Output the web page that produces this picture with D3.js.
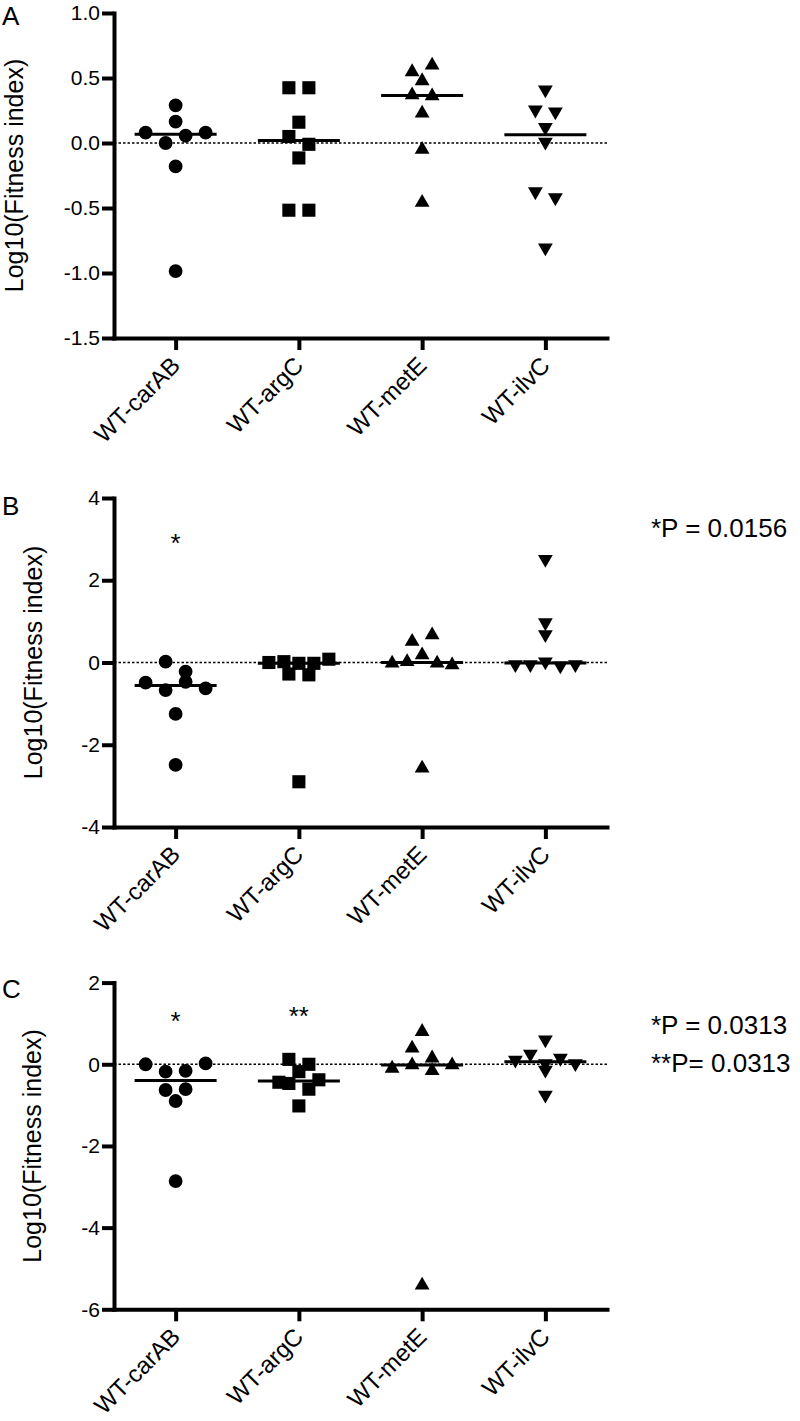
<!DOCTYPE html>
<html><head><meta charset="utf-8">
<script src="https://cdn.jsdelivr.net/npm/d3@7"></script>
<style>
body{margin:0;background:#fff}
svg{display:block}
text{font-family:"Liberation Sans",Arial,Helvetica,sans-serif;fill:#000}
</style>
</head><body>
<svg id="chart" width="800" height="1421"></svg>
<script>
// ---------------- DATA ----------------
const categories = ["WT-carAB", "WT-argC", "WT-metE", "WT-ilvC"];
const yTitle = "Log10(Fitness index)";

// Panel A
const ticksA = [1.0, 0.5, 0.0, -0.5, -1.0, -1.5];
const A_carAB = [0.29, 0.165, 0.08, 0.0, 0.056, 0.08, -0.18, -0.985];
const A_argC  = [0.425, 0.425, 0.16, 0.05, -0.01, -0.115, -0.517, -0.517];
const A_metE  = [0.547, 0.598, 0.478, 0.369, 0.361, 0.229, -0.05, -0.458];
const A_ilvC  = [0.41, 0.255, 0.24, 0.12, 0.008, -0.374, -0.42, -0.806];

// Panel B
const ticksB = [4, 2, 0, -2, -4];
const B_carAB = [0.02, -0.22, -0.49, -0.67, -0.47, -0.63, -1.25, -2.49];
const B_argC  = [0.0, 0.02, -0.02, -0.02, 0.08, -0.28, -0.30, -2.9];
const B_metE  = [0.51, 0.67, -0.02, 0.02, 0.18, -0.02, -0.06, -2.57];
const B_ilvC  = [2.51, 0.97, 0.68, -0.05, -0.05, 0.02, -0.08, -0.05];
const starsB = [{category: "WT-carAB", text: "*", value: 3.05}];
const pvalsB = ["*P = 0.0156"];

// Panel C
const ticksC = [2, 0, -2, -4, -6];
const C_carAB = [0.0, -0.18, -0.16, 0.02, -0.63, -0.61, -0.9, -2.86];
const C_argC  = [0.12, 0.0, -0.44, -0.18, -0.47, -0.38, -0.61, -1.02];
const C_metE  = [0.8, 0.39, 0.15, -0.1, -0.02, -0.16, -0.02, -5.41];
const C_ilvC  = [0.6, 0.105, 0.25, 0.02, 0.15, 0.02, -0.14, -0.75];
const starsC = [{category: "WT-carAB", text: "*", value: 1.2},
                {category: "WT-argC", text: "**", value: 1.33}];
const pvalsC = ["*P = 0.0313", "**P= 0.0313"];

// ---------------- LAYOUT ----------------
const svg = d3.select("#chart");
const axisX = 114, axisEnd = 607;
const symbols = [d3.symbolCircle, d3.symbolSquare, d3.symbolTriangle, d3.symbolTriangle];
const symSizes = [150, 172, 95, 95];
const symRot = [0, 0, 0, 180];

const panels = [
  {letter: "A", letterY: 25, top: 13, bottom: 338, ticks: ticksA,
   fmt: v => v.toFixed(1), series: [A_carAB, A_argC, A_metE, A_ilvC],
   stars: [], pvals: [], pvalY: 0, titleX: 23},
  {letter: "B", letterY: 515, top: 498, bottom: 827, ticks: ticksB,
   fmt: v => String(v), series: [B_carAB, B_argC, B_metE, B_ilvC],
   stars: starsB, pvals: pvalsB, pvalY: 537, titleX: 42},
  {letter: "C", letterY: 998, top: 982.6, bottom: 1309.3, ticks: ticksC,
   fmt: v => String(v), series: [C_carAB, C_argC, C_metE, C_ilvC],
   stars: starsC, pvals: pvalsC, pvalY: 1034, titleX: 41}
];

// arrange points of one group in horizontal rows (Prism-like scatter)
function rowOffsets(ys) {
  const idx = ys.map((y, i) => i).sort((a, b) => ys[a] - ys[b]);
  const rows = [];
  let cur = null;
  idx.forEach(i => {
    if (cur && ys[i] - ys[cur[0]] <= 11) cur.push(i);
    else { cur = [i]; rows.push(cur); }
  });
  const off = new Array(ys.length).fill(0);
  rows.forEach(r => {
    r.sort((a, b) => a - b);
    const n = r.length;
    const step = n > 1 ? Math.min(20, 60 / (n - 1)) : 0;
    r.forEach((i, k) => { off[i] = (k - (n - 1) / 2) * step; });
  });
  return off;
}

panels.forEach(p => {
  const g = svg.append("g");
  const dom = [p.ticks[p.ticks.length - 1], p.ticks[0]];
  const y = d3.scaleLinear().domain(dom).range([p.bottom, p.top]);
  const x = d3.scalePoint().domain(categories).range([axisX, axisEnd]).padding(0.5);

  // zero reference line (dotted)
  g.append("line")
    .attr("x1", axisX).attr("x2", axisEnd)
    .attr("y1", y(0)).attr("y2", y(0))
    .attr("stroke", "#000").attr("stroke-width", 1.6)
    .attr("stroke-dasharray", "2.5,2");

  // points
  p.series.forEach((vals, ci) => {
    const cx = x(categories[ci]);
    const ys = vals.map(v => y(v));
    const offs = rowOffsets(ys);
    const sym = d3.symbol().type(symbols[ci]).size(symSizes[ci]);
    g.append("g").selectAll("path").data(vals).join("path")
      .attr("d", sym)
      .attr("transform", (v, i) => `translate(${cx + offs[i]},${y(v)}) rotate(${symRot[ci]})`)
      .attr("fill", "#000");
    // median line
    const med = d3.median(vals);
    g.append("line")
      .attr("x1", cx - 41).attr("x2", cx + 41)
      .attr("y1", y(med)).attr("y2", y(med))
      .attr("stroke", "#000").attr("stroke-width", 3);
  });

  // y axis
  const ya = g.append("g").attr("transform", `translate(${axisX},0)`)
    .call(d3.axisLeft(y).tickValues(p.ticks).tickFormat(p.fmt).tickSize(12).tickSizeOuter(0).tickPadding(2));
  ya.select(".domain").attr("stroke-width", 4).attr("stroke-linecap", "square");
  ya.selectAll(".tick line").attr("stroke-width", 4);
  ya.selectAll(".tick text").attr("font-size", 21).attr("font-family", "Liberation Sans, Arial, sans-serif").attr("fill", "#000");

  // x axis
  const xa = g.append("g").attr("transform", `translate(0,${p.bottom})`)
    .call(d3.axisBottom(x).tickSize(12).tickSizeOuter(0));
  xa.select(".domain").attr("stroke-width", 4).attr("stroke-linecap", "square");
  xa.selectAll(".tick line").attr("stroke-width", 4);
  xa.selectAll(".tick text").remove();
  g.append("g").selectAll("text").data(categories).join("text")
    .attr("transform", d => `translate(${x(d) + 6},${p.bottom + 29}) rotate(-45)`)
    .attr("text-anchor", "end")
    .attr("font-size", 24)
    .text(d => d);

  // y title
  g.append("text")
    .attr("transform", `translate(${p.titleX},${(p.top + p.bottom) / 2}) rotate(-90)`)
    .attr("text-anchor", "middle")
    .attr("font-size", 25)
    .text(yTitle);

  // panel letter
  g.append("text").attr("x", 2).attr("y", p.letterY)
    .attr("font-size", 26).text(p.letter);

  // significance stars
  g.append("g").selectAll("text").data(p.stars).join("text")
    .attr("x", d => x(d.category)).attr("y", d => y(d.value) + 15)
    .attr("text-anchor", "middle").attr("font-size", 26)
    .text(d => d.text);

  // p values
  g.append("g").selectAll("text").data(p.pvals).join("text")
    .attr("x", 651).attr("y", (d, i) => p.pvalY + i * 38)
    .attr("font-size", 26)
    .text(d => d);
});
</script>
</body></html>
